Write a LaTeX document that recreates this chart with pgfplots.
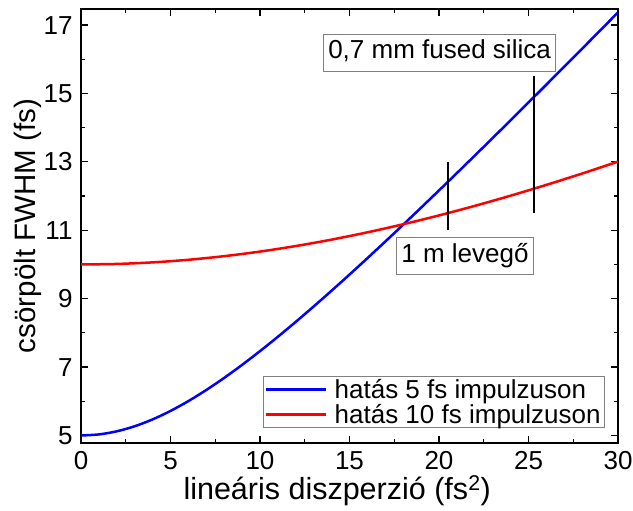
\documentclass[border=0pt]{standalone}
\usepackage{fontspec}
\setmainfont{Liberation Sans}
\usepackage{pgfplots}
\pgfplotsset{compat=1.18}

\newcommand{\bigfont}{\fontsize{26bp}{31bp}\selectfont}
\newcommand{\labelfont}{\fontsize{30.5bp}{35bp}\selectfont}
\newcommand{\ylabelfont}{\fontsize{29.5bp}{34bp}\selectfont}

\begin{document}
\begin{tikzpicture}
\begin{axis}[
  name=ax,
  scale only axis,
  width=537bp, height=434bp,
  xmin=0, xmax=30, ymin=4.78, ymax=17.47,
  xtick={0,5,...,30}, ytick={5,7,...,17},
  minor x tick num=1, minor y tick num=1,
  tick align=inside,
  tick pos=both,
  major tick length=7bp, minor tick length=4bp,
  every tick/.style={black, line width=1.2bp},
  axis line style={line width=1.5bp},
  font=\bigfont,
  ticklabel style={font=\bigfont},
  /pgf/number format/assume math mode=true,
  yticklabel style={xshift=-5bp},
  xticklabel style={yshift=-5bp},
  xlabel={lineáris diszperzió (fs\textsuperscript{2})},
  ylabel={csörpölt FWHM (fs)},
  xlabel style={at={(axis description cs:0.477,-0.1313)}, anchor=base, font=\labelfont},
  ylabel style={at={(axis description cs:-0.0845,0.5)}, anchor=base, rotate=0, font=\ylabelfont},
  legend style={at={(0.9758,0.0346)}, anchor=south east, draw=gray,
    line width=0.8bp, font=\fontsize{26bp}{28bp}\selectfont,
    inner xsep=2bp, inner ysep=1bp, row sep=0bp, column sep=5bp,
    cells={anchor=west}},
  legend image code/.code={\draw[#1] (0bp,0bp) -- (60bp,0bp);},
]

% 5 fs pulse
\addplot[blue, line width=2.5bp, smooth] coordinates {
(0,5.0000) (1,5.0307) (2,5.1215) (3,5.2695) (4,5.4699) (5,5.7173)
(6,6.0058) (7,6.3299) (8,6.6843) (9,7.0645) (10,7.4666) (11,7.8871)
(12,8.3234) (13,8.7730) (14,9.2340) (15,9.7049) (16,10.1842) (17,10.6707)
(18,11.1636) (19,11.6621) (20,12.1654) (21,12.6729) (22,13.1843) (23,13.6990)
(24,14.2167) (25,14.7371) (26,15.2599) (27,15.7848) (28,16.3117) (29,16.8404)
(30,17.3707)};
\addlegendentry{hatás 5 fs impulzuson}

% 10 fs pulse
\addplot[red, line width=2.5bp, smooth] coordinates {
(0,10.0000) (2,10.0154) (4,10.0613) (6,10.1374) (8,10.2430) (10,10.3773)
(12,10.5390) (14,10.7269) (16,10.9398) (18,11.1762) (20,11.4346) (22,11.7135)
(24,12.0116) (26,12.3274) (28,12.6597) (30,13.0071)};
\addlegendentry{hatás 10 fs impulzuson}

% dispersion of 1 m air and 0.7 mm fused silica
\addplot[black, line width=2bp, forget plot] coordinates {(20.5,11) (20.5,13)};
\addplot[black, line width=2bp, forget plot] coordinates {(25.3,11.5) (25.3,15.5)};

\node[draw=gray, line width=0.8bp, fill=white, inner xsep=5bp, inner ysep=6bp,
  text height=19bp, text depth=6bp, font=\bigfont]
  at (axis cs:20.03,16.2) {0,7 mm fused silica};
\node[draw=gray, line width=0.8bp, fill=white, inner xsep=5bp, inner ysep=6bp,
  text height=19bp, text depth=6bp, font=\bigfont]
  at (axis cs:21.45,10.24) {1 m levegő};
\end{axis}
\pgfresetboundingbox
\useasboundingbox ([xshift=-81bp,yshift=-68bp]ax.south west)
  rectangle ([xshift=15bp,yshift=9bp]ax.north east);
\end{tikzpicture}
\end{document}
